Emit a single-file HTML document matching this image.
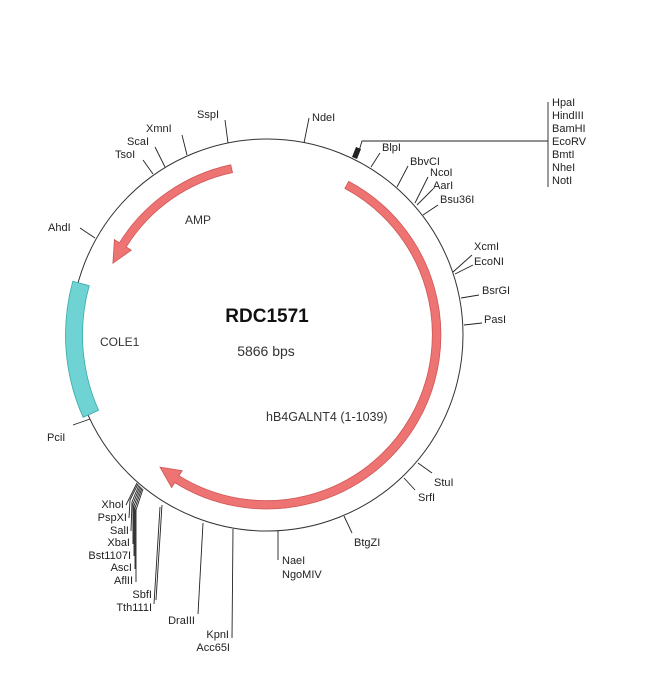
<!DOCTYPE html>
<html><head><meta charset="utf-8">
<style>
html,body{margin:0;padding:0;background:#fff;}
svg{display:block;}
text{font-family:"Liberation Sans",Arial,sans-serif;font-size:11px;fill:#222;}
</style></head>
<body>
<svg id="s" width="650" height="676" viewBox="0 0 650 676" xmlns="http://www.w3.org/2000/svg">
<rect width="650" height="676" fill="#fff"/>
<circle cx="267" cy="335" r="196" fill="none" stroke="#333" stroke-width="1"/>
<path id="cole" fill="#6fd3d3" stroke="#3aa9a9" stroke-width="0.8"/>
<path id="amp" fill="#ee7474" stroke="#d05656" stroke-width="0.8"/>
<path id="hb4" fill="#ee7474" stroke="#d05656" stroke-width="0.8"/>
<g id="ticks" stroke="#222" stroke-width="0.9" fill="none">
<line x1="304" y1="143" x2="309" y2="118"/>
<line x1="228" y1="143" x2="225" y2="120"/>
<line x1="187" y1="155" x2="182" y2="135"/>
<line x1="165" y1="167" x2="155" y2="147"/>
<line x1="153" y1="174" x2="143" y2="160"/>
<line x1="95" y1="238" x2="80" y2="228"/>
<line x1="90" y1="419" x2="73" y2="425"/>
<line x1="418" y1="463" x2="432" y2="473"/>
<line x1="404" y1="478" x2="415" y2="490"/>
<line x1="344" y1="516" x2="352" y2="533"/>
<line x1="278" y1="531" x2="278" y2="560"/>
<line x1="233" y1="529" x2="232" y2="638"/>
<line x1="203" y1="523" x2="198" y2="614"/>
<line x1="162" y1="505" x2="156" y2="600"/>
<line x1="160" y1="507" x2="154" y2="604"/>
<polyline points="137,483 126,505"/>
<polyline points="138,484 130,500 129,518"/>
<polyline points="139,485 132,502 131,531"/>
<polyline points="140,486 133,504 133,544"/>
<polyline points="141,487 134,506 134,556"/>
<polyline points="142,488 135,508 135,569"/>
<polyline points="143,489 136,510 136,582"/>
<line x1="371" y1="167" x2="380" y2="153"/>
<line x1="397" y1="187" x2="408" y2="166"/>
<line x1="415" y1="203" x2="428" y2="177"/>
<line x1="417" y1="205" x2="433" y2="189"/>
<line x1="423" y1="215" x2="438" y2="205"/>
<line x1="453" y1="272" x2="472" y2="255"/>
<line x1="455" y1="274" x2="473" y2="265"/>
<line x1="461" y1="298" x2="479" y2="295"/>
<line x1="464" y1="325" x2="482" y2="323"/>
<polyline points="359,151 362,141 548,141"/>
<line x1="548" y1="102" x2="548" y2="187"/>
</g>
<polygon points="352,157 356,147 361,149 357,159" fill="#222"/>
<text x="312" y="121">NdeI</text>
<text x="197" y="118">SspI</text>
<text x="146" y="132">XmnI</text>
<text x="127" y="145">ScaI</text>
<text x="115" y="158">TsoI</text>
<text x="48" y="231">AhdI</text>
<text x="47" y="441">PciI</text>
<text x="434" y="486">StuI</text>
<text x="418" y="501">SrfI</text>
<text x="354" y="546">BtgZI</text>
<text x="282" y="564">NaeI</text>
<text x="282" y="578">NgoMIV</text>
<text x="229" y="638" text-anchor="end">KpnI</text>
<text x="230" y="651" text-anchor="end">Acc65I</text>
<text x="195" y="624" text-anchor="end">DraIII</text>
<text x="152" y="598" text-anchor="end">SbfI</text>
<text x="152" y="611" text-anchor="end">Tth111I</text>
<text x="124" y="508" text-anchor="end">XhoI</text>
<text x="127" y="521" text-anchor="end">PspXI</text>
<text x="129" y="534" text-anchor="end">SalI</text>
<text x="130" y="546" text-anchor="end">XbaI</text>
<text x="131" y="559" text-anchor="end">Bst1107I</text>
<text x="132" y="571" text-anchor="end">AscI</text>
<text x="133" y="584" text-anchor="end">AflII</text>
<text x="382" y="151">BlpI</text>
<text x="410" y="165">BbvCI</text>
<text x="430" y="176">NcoI</text>
<text x="433" y="189">AarI</text>
<text x="440" y="203">Bsu36I</text>
<text x="474" y="250">XcmI</text>
<text x="474" y="265">EcoNI</text>
<text x="482" y="294">BsrGI</text>
<text x="484" y="323">PasI</text>
<text x="552" y="106">HpaI</text>
<text x="552" y="119">HindIII</text>
<text x="552" y="132">BamHI</text>
<text x="552" y="145">EcoRV</text>
<text x="552" y="158">BmtI</text>
<text x="552" y="171">NheI</text>
<text x="552" y="184">NotI</text>
<text x="267" y="322" text-anchor="middle" style="font-size:19px;font-weight:bold;fill:#111">RDC1571</text>
<text x="266" y="356" text-anchor="middle" style="font-size:14px;fill:#333">5866 bps</text>
<text x="266" y="421" style="font-size:12.5px;fill:#333">hB4GALNT4 (1-1039)</text>
<text x="185" y="224" style="font-size:12px;fill:#333">AMP</text>
<text x="100" y="346" style="font-size:12px;fill:#333">COLE1</text>
</svg>
<script>
var cx=267,cy=335;
function P(r,a){a=a*Math.PI/180;return (cx+r*Math.cos(a)).toFixed(1)+","+(cy+r*Math.sin(a)).toFixed(1);}
function band(r,w,a1,a2){var ro=r+w/2,ri=r-w/2,large=Math.abs(a2-a1)>180?1:0,sw=a2>a1?1:0;
 return "M"+P(ro,a1)+" A"+ro+","+ro+" 0 "+large+" "+sw+" "+P(ro,a2)+" L"+P(ri,a2)+" A"+ri+","+ri+" 0 "+large+" "+(1-sw)+" "+P(ri,a1)+" Z";}
function arrow(r,w,hw,a1,a2,hl){var dir=a2>a1?1:-1,ah=a2-dir*hl,ro=r+w/2,ri=r-w/2,large=Math.abs(ah-a1)>180?1:0,sw=dir>0?1:0;
 return "M"+P(ro,a1)+" A"+ro+","+ro+" 0 "+large+" "+sw+" "+P(ro,ah)+" L"+P(r+hw,ah)+" L"+P(r,a2)+" L"+P(r-hw,ah)+" L"+P(ri,ah)+" A"+ri+","+ri+" 0 "+large+" "+(1-sw)+" "+P(ri,a1)+" Z";}
document.getElementById("cole").setAttribute("d",band(193,17,195.5,155.9));
document.getElementById("amp").setAttribute("d",arrow(170,8,10,258,205,7));
document.getElementById("hb4").setAttribute("d",arrow(170,8,10,-62,129,7));
</script>
</body></html>
